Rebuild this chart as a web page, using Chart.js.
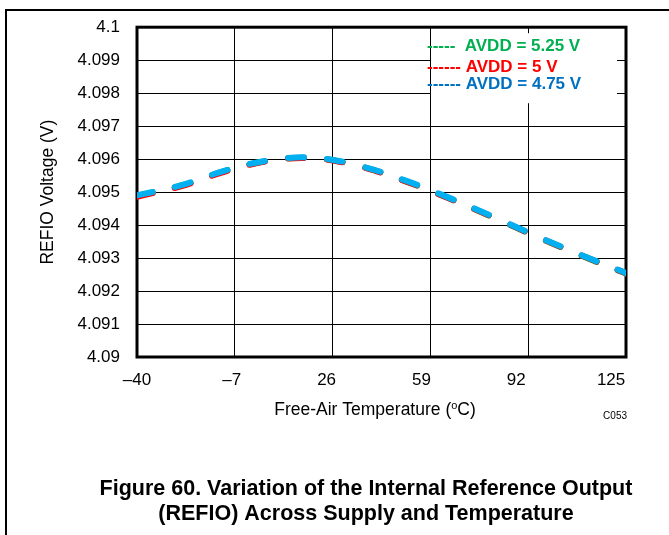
<!DOCTYPE html>
<html>
<head>
<meta charset="utf-8">
<script src="https://cdn.jsdelivr.net/npm/chart.js@4/dist/chart.umd.min.js"></script>
<style>
  html, body { margin: 0; padding: 0; background: #fff; }
  canvas { display: block; }
</style>
</head>
<body>
<canvas id="refioChart" width="669" height="535"></canvas>
<script>
  // Temperature points (degC) and REFIO readings for each supply
  const temps = [-40, -25, -10, 5, 20, 35, 50, 65, 80, 95, 110, 125];
  const refio525 = [4.09489, 4.09520, 4.09565, 4.09596, 4.09603, 4.09579, 4.09535, 4.09482, 4.09424, 4.09364, 4.09307, 4.09253];
  const refio500 = [4.09486, 4.09518, 4.09563, 4.09595, 4.09602, 4.09578, 4.09535, 4.09482, 4.09425, 4.09365, 4.09308, 4.09254];
  const refio475 = [4.09490, 4.09521, 4.09566, 4.09597, 4.09604, 4.09580, 4.09537, 4.09484, 4.09426, 4.09366, 4.09309, 4.09255];

  // Axis ticks
  const xTicks = [-40, -7, 26, 59, 92, 125];
  const yTicks = [4.09, 4.091, 4.092, 4.093, 4.094, 4.095, 4.096, 4.097, 4.098, 4.099, 4.1];

  const legendRows = [
    { text: '-----  AVDD = 5.25 V', color: '#00B050' },
    { text: '------ AVDD = 5 V', color: '#FF0000' },
    { text: '------ AVDD = 4.75 V', color: '#0070C0' }
  ];

  const toPoints = (vals) => temps.map((t, i) => ({ x: t, y: vals[i] }));

  const lineStyle = {
    borderWidth: 6,
    borderDash: [16, 23],
    borderCapStyle: 'round',
    pointRadius: 0,
    tension: 0.4,
    fill: false
  };

  // frame, plot border, legend box, x title and caption
  const decorations = {
    id: 'decorations',
    beforeDatasetsDraw(chart) {
      const { ctx, chartArea: ca } = chart;
      ctx.save();
      // legend box covers the grid
      ctx.fillStyle = '#fff';
      ctx.fillRect(ca.right - 195, ca.top + 6, 186, 70);
      ctx.font = 'bold 17px "Liberation Sans", Arial, sans-serif';
      ctx.textAlign = 'left';
      ctx.textBaseline = 'alphabetic';
      const baselines = [51, 72, 89];
      legendRows.forEach((row, i) => {
        ctx.fillStyle = row.color;
        ctx.fillText(row.text, ca.right - 199, baselines[i]);
      });
      // plot border
      ctx.strokeStyle = '#000';
      ctx.lineWidth = 3;
      ctx.strokeRect(ca.left, ca.top, ca.right - ca.left, ca.bottom - ca.top);
      ctx.restore();
    },
    afterDraw(chart) {
      const { ctx } = chart;
      ctx.save();
      // outer frame
      ctx.strokeStyle = '#000';
      ctx.lineWidth = 2;
      ctx.beginPath();
      ctx.moveTo(6, 535);
      ctx.lineTo(6, 10);
      ctx.lineTo(669, 10);
      ctx.stroke();

      // x axis title with superscript o
      ctx.fillStyle = '#000';
      ctx.textBaseline = 'alphabetic';
      ctx.textAlign = 'left';
      const big = '17.5px "Liberation Sans", Arial, sans-serif';
      const small = '11px "Liberation Sans", Arial, sans-serif';
      const p1 = 'Free-Air Temperature (', p2 = 'o', p3 = 'C)';
      ctx.font = big;
      const w1 = ctx.measureText(p1).width, w3 = ctx.measureText(p3).width;
      ctx.font = small;
      const w2 = ctx.measureText(p2).width;
      const x = 375 - (w1 + w2 + w3) / 2;
      const base = 415;
      ctx.font = big;
      ctx.fillText(p1, x, base);
      ctx.font = small;
      ctx.fillText(p2, x + w1, base - 6);
      ctx.font = big;
      ctx.fillText(p3, x + w1 + w2, base);

      // part number
      ctx.font = '10px "Liberation Sans", Arial, sans-serif';
      ctx.textAlign = 'right';
      ctx.fillText('C053', 627, 419);

      // caption
      ctx.font = 'bold 21.5px "Liberation Sans", Arial, sans-serif';
      ctx.textAlign = 'center';
      ctx.fillText('Figure 60. Variation of the Internal Reference Output', 366, 495);
      ctx.fillText('(REFIO) Across Supply and Temperature', 366, 520);
      ctx.restore();
    }
  };

  const tickFont = { family: '"Liberation Sans", Arial, sans-serif', size: 17 };

  new Chart(document.getElementById('refioChart'), {
    type: 'line',
    data: {
      datasets: [
        Object.assign({ label: 'AVDD = 5.25 V', data: toPoints(refio525), borderColor: '#00B050', order: 2 }, lineStyle),
        Object.assign({ label: 'AVDD = 5 V', data: toPoints(refio500), borderColor: '#FF0000', order: 1 }, lineStyle),
        Object.assign({ label: 'AVDD = 4.75 V', data: toPoints(refio475), borderColor: '#00B0F0', order: 0 }, lineStyle)
      ]
    },
    options: {
      responsive: false,
      animation: false,
      layout: { padding: { left: 0, top: 26, right: 43, bottom: 0 } },
      plugins: {
        legend: { display: false },
        tooltip: { enabled: false }
      },
      scales: {
        x: {
          type: 'linear',
          position: 'bottom',
          min: -40,
          max: 125,
          afterBuildTicks: (scale) => { scale.ticks = xTicks.map(v => ({ value: v })); },
          afterFit: (scale) => { scale.height = 0; },
          grid: { color: '#000', lineWidth: 1, drawTicks: false },
          border: { display: false },
          ticks: { display: false }
        },
        // label row of the x axis, spaced as in the figure
        xLabels: {
          type: 'linear',
          position: 'bottom',
          min: -40,
          max: 130.2,
          afterBuildTicks: (scale) => { scale.ticks = xTicks.map(v => ({ value: v })); },
          afterFit: (scale) => { scale.height = 178; },
          grid: { display: false, drawTicks: false },
          border: { display: false },
          ticks: {
            padding: 13,
            maxRotation: 0,
            color: '#000',
            font: tickFont,
            callback: (v) => (v < 0 ? '\u2013' + Math.abs(v) : String(v))
          }
        },
        y: {
          min: 4.09,
          max: 4.1,
          afterBuildTicks: (scale) => { scale.ticks = yTicks.map(v => ({ value: v })); },
          afterFit: (scale) => { scale.width = 137; },
          grid: { color: '#000', lineWidth: 1, drawTicks: false },
          border: { display: false },
          ticks: {
            padding: 17,
            color: '#000',
            font: tickFont,
            callback: (v) => String(parseFloat(Number(v).toFixed(3)))
          },
          title: {
            display: true,
            text: 'REFIO Voltage (V)',
            color: '#000',
            font: { family: '"Liberation Sans", Arial, sans-serif', size: 17.5 },
            padding: { top: 38, bottom: 0 }
          }
        }
      }
    },
    plugins: [decorations]
  });
</script>
</body>
</html>
